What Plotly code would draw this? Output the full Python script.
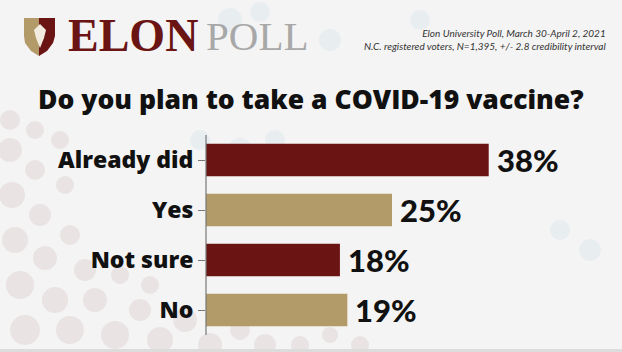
import plotly.graph_objects as go

categories = ["Already did", "Yes", "Not sure", "No"]
values = [38, 25, 18, 19]
value_labels = ["38%", "25%", "18%", "19%"]
bar_colors = ["#6b1414", "#b39b69", "#6b1414", "#b39b69"]

title_text = "Do you plan to take a COVID-19 vaccine?"
source_lines = ["Elon University Poll, March 30-April 2, 2021",
                "N.C. registered voters, N=1,395, +/- 2.8 credibility interval"]

W, H = 622, 352
L, R, T, B = 206, 22, 135, 17
PW, PH = W - L - R, H - T - B


def px(x):
    return (x - L) / PW


def py(y):
    return (H - B - y) / PH


fig = go.Figure()
fig.add_trace(go.Bar(
    y=categories, x=values, orientation="h",
    marker=dict(color=bar_colors, line=dict(width=0)),
    width=0.65, hoverinfo="skip",
))

shapes = []
# decorative background circles (faint)
circ = [
    (10, 150, 12), (35, 170, 10), (12, 195, 13), (40, 215, 11), (15, 240, 13), (45, 258, 12),
    (20, 285, 14), (55, 300, 13), (25, 330, 15), (70, 330, 14), (95, 300, 12), (115, 335, 14),
    (140, 310, 11), (160, 340, 13), (185, 320, 12), (210, 345, 12), (240, 330, 10), (265, 345, 11),
    (60, 140, 9), (65, 185, 9), (70, 235, 10), (85, 270, 11), (120, 275, 9), (150, 285, 9),
    (35, 130, 9), (10, 120, 10), (300, 345, 9), (330, 335, 8), (360, 345, 9),
]
for cx, cy, r in circ:
    shapes.append(dict(type="circle", xref="paper", yref="paper", layer="below",
                       x0=px(cx - r), x1=px(cx + r), y0=py(cy + r), y1=py(cy - r),
                       fillcolor="#e9e3e3", line=dict(width=0)))
for cx, cy, r in [(230, 20, 12), (260, 12, 10), (330, 40, 11), (420, 20, 10), (200, 140, 10),
                  (240, 150, 12), (275, 140, 10), (560, 230, 10), (590, 250, 11)]:
    shapes.append(dict(type="circle", xref="paper", yref="paper", layer="below",
                       x0=px(cx - r), x1=px(cx + r), y0=py(cy + r), y1=py(cy - r),
                       fillcolor="#e8edef", line=dict(width=0)))

# axis line
shapes.append(dict(type="line", xref="paper", yref="paper", x0=0, x1=0,
                   y0=py(335), y1=py(135), line=dict(color="#777777", width=1.2)))

# shield logo
def path(points):
    s = "M " + " L ".join(f"{px(a):.5f},{py(b):.5f}" for a, b in points) + " Z"
    return s

shield_left = [(24, 18), (39, 18), (39, 56), (31, 51), (25, 43), (24, 36)]
shield_right = [(39, 18), (55, 18), (55, 36), (53, 43), (47, 51), (39, 56)]
shapes.append(dict(type="path", xref="paper", yref="paper", path=path(shield_left),
                   fillcolor="#b39b69", line=dict(width=0)))
shapes.append(dict(type="path", xref="paper", yref="paper", path=path(shield_right),
                   fillcolor="#6b1414", line=dict(width=0)))
shapes.append(dict(type="path", xref="paper", yref="paper",
                   path=path([(40, 24), (46, 30), (44, 38), (40, 48), (36, 38), (34, 30)]),
                   fillcolor="#f2ece0", line=dict(width=0)))
# bottom strip
shapes.append(dict(type="rect", xref="paper", yref="paper", x0=px(0), x1=px(W),
                   y0=py(H), y1=py(349), fillcolor="#dcdcdc", line=dict(width=0)))

annotations = []
for c, v, lab in zip(categories, values, value_labels):
    annotations.append(dict(x=v, y=c, xref="x", yref="y", text=lab,
                            showarrow=False, xanchor="left", xshift=6,
                            font=dict(family="Lato", size=31, color="#111111", weight=900)))

annotations.append(dict(x=px(311), y=py(99), xref="paper", yref="paper",
                        text=title_text, showarrow=False,
                        xanchor="center", yanchor="middle",
                        font=dict(family="Open Sans", size=26.5, color="#111111", weight=800)))
annotations.append(dict(x=px(608), y=py(39), xref="paper", yref="paper",
                        text="<i>" + "<br>".join(source_lines) + "</i>", showarrow=False,
                        xanchor="right", yanchor="middle", align="right",
                        font=dict(family="Lato", size=10, color="#333333")))
annotations.append(dict(x=px(66), y=py(36), xref="paper", yref="paper",
                        text="<b>ELON</b>", showarrow=False, xanchor="left", yanchor="middle",
                        font=dict(family="Liberation Serif", size=46, color="#6b1414")))
annotations.append(dict(x=px(204), y=py(36), xref="paper", yref="paper",
                        text="POLL", showarrow=False, xanchor="left", yanchor="middle",
                        font=dict(family="Liberation Serif", size=41, color="#a8a8a8")))

fig.update_layout(
    width=W, height=H,
    margin=dict(l=L, r=R, t=T, b=B, pad=0),
    paper_bgcolor="#f4f4f4", plot_bgcolor="rgba(0,0,0,0)",
    showlegend=False,
    shapes=shapes, annotations=annotations,
    bargap=0.35,
    xaxis=dict(range=[0, PW / 7.44], visible=False, fixedrange=True),
    yaxis=dict(autorange="reversed", showgrid=False, zeroline=False, showline=False,
               ticks="outside", ticklen=7, tickcolor="#777777", tickwidth=1.2,
               tickfont=dict(family="Open Sans", size=23, color="#111111", weight=800),
               ticklabelstandoff=0),
)

fig.write_html("out.html")
